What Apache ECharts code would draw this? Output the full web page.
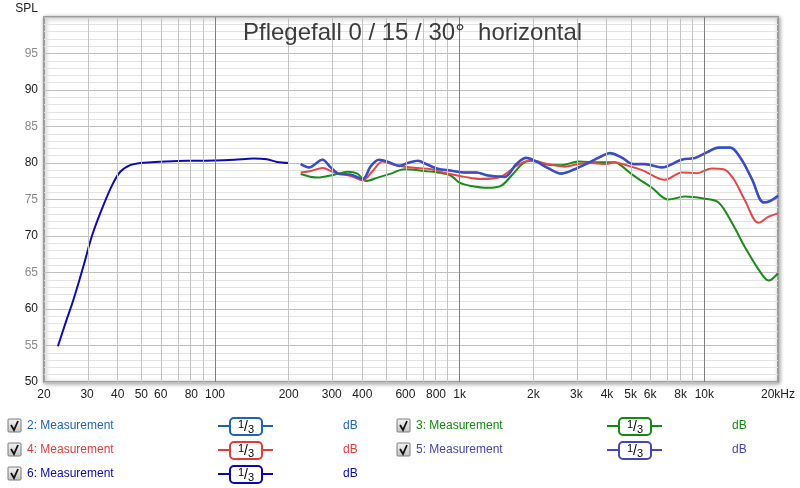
<!DOCTYPE html>
<html>
<head>
<meta charset="utf-8">
<script src="https://cdn.jsdelivr.net/npm/echarts@6.0.0/dist/echarts.min.js"></script>
<style>
html, body { margin: 0; padding: 0; background: #fff; }
#chart { width: 800px; height: 488px; }
</style>
</head>
<body>
<div id="chart"></div>
<script>
// frequency ticks (Hz) and their labels
const xTickFreqs = [20, 30, 40, 50, 60, 80, 100, 200, 300, 400, 600, 800, 1000, 2000, 3000, 4000, 5000, 6000, 8000, 10000, 20000];
const xTickLabels = ['20', '30', '40', '50', '60', '80', '100', '200', '300', '400', '600', '800', '1k', '2k', '3k', '4k', '5k', '6k', '8k', '10k', '20kHz'];
const gridFreqsLight = [30, 40, 50, 60, 70, 80, 90, 200, 300, 400, 500, 600, 700, 800, 900, 2000, 3000, 4000, 5000, 6000, 7000, 8000, 9000];
const gridFreqsDark = [100, 1000, 10000];

// 6: Measurement (bass, 20-200 Hz)
const freq6 = [22.8, 24.5, 26.4, 29, 31.4, 34.5, 37.9, 41, 45, 49.4, 55, 63, 77, 100, 120, 144, 163, 179, 200];
const spl6 = [54.9, 58.1, 61.3, 65.9, 70.0, 73.7, 76.9, 78.8, 79.7, 80.0, 80.1, 80.2, 80.3, 80.35, 80.45, 80.6, 80.5, 80.15, 80.0];

// 5: Measurement
const freq5 = [224, 242, 275, 297, 322, 359, 401, 434, 469, 515, 566, 613, 674, 740, 814, 922, 1046, 1168, 1304, 1526, 1704, 1872, 2057, 2297, 2606, 2954, 3352, 3738, 4110, 4590, 5124, 5716, 6694, 8084, 9166, 10230, 11430, 12750, 14010, 15650, 17470, 18590, 20000];
const spl5 = [79.85, 79.4, 80.45, 79.4, 78.5, 78.4, 77.8, 79.6, 80.45, 80.1, 79.6, 80.0, 80.3, 79.75, 79.2, 78.95, 78.7, 78.7, 78.3, 78.1, 79.85, 80.7, 80.2, 79.3, 78.55, 79.15, 80.0, 80.8, 81.35, 80.75, 79.85, 79.85, 79.4, 80.45, 80.7, 81.45, 82.1, 82.1, 80.75, 77.8, 74.6, 74.8, 75.5];

// 2: Measurement lies right under 5
const freq2 = freq5;
const spl2 = spl5;

// 4: Measurement
const freq4 = [224, 246, 275, 307, 353, 401, 441, 484, 540, 594, 674, 764, 894, 1046, 1224, 1479, 1704, 1931, 2122, 2370, 2688, 3050, 3458, 3920, 4308, 4734, 5542, 6906, 8084, 9312, 10730, 11980, 13170, 14690, 16670, 18320, 20000];
const spl4 = [78.7, 78.9, 79.3, 78.7, 78.3, 77.65, 78.9, 80.2, 79.75, 79.5, 79.3, 79.15, 78.55, 78.1, 77.8, 78.15, 79.6, 80.3, 80.1, 79.75, 79.5, 79.85, 80.0, 79.85, 80.1, 79.75, 79.05, 77.7, 78.7, 78.6, 79.25, 79.15, 77.8, 74.8, 71.8, 72.65, 73.1];

// 3: Measurement
const freq3 = [224, 262, 307, 348, 382, 414, 462, 524, 594, 717, 814, 922, 998, 1114, 1304, 1479, 1651, 1842, 2024, 2297, 2606, 3050, 3684, 4308, 4590, 5124, 6090, 7130, 8340, 10070, 11430, 12960, 14690, 16670, 18320, 20000];
const spl3 = [78.5, 78.0, 78.4, 78.8, 78.55, 77.55, 78.0, 78.55, 79.15, 78.9, 78.7, 78.25, 77.3, 76.85, 76.6, 76.9, 78.5, 80.1, 80.3, 79.75, 79.7, 80.2, 80.1, 80.1, 79.6, 78.3, 76.65, 75.0, 75.4, 75.1, 74.6, 71.8, 68.4, 65.4, 63.9, 64.9];

const legendNames = ['2: Measurement', '3: Measurement', '4: Measurement', '5: Measurement', '6: Measurement'];
const legendColors = ['#1e64b4', '#128a12', '#e03c3c', '#4646b4', '#0808b0'];

const chart = echarts.init(document.getElementById('chart'), null, { renderer: 'canvas' });

function pts(freqs, spl) {
	return freqs.map((f, i) => [Math.log10(f), spl[i]]);
}

function curve(name, freqs, spl, color, width) {
	return {
		name: name,
		type: 'line',
		data: pts(freqs, spl),
		smooth: 0.35,
		symbol: 'none',
		z: 3,
		lineStyle: { color: color, width: width },
		silent: true
	};
}

const tickLabelMap = {};
xTickFreqs.forEach((f, i) => { tickLabelMap[f] = xTickLabels[i]; });

// legend, two columns, drawn as graphics
const legendGraphics = [];
legendNames.forEach((name, i) => {
	const x0 = 8 + (i % 2) * 389;
	const cy = 426 + Math.floor(i / 2) * 24;
	const color = legendColors[i];
	legendGraphics.push(
		{
			type: 'rect',
			shape: { x: x0, y: cy - 7, width: 13, height: 13, r: 1 },
			style: {
				fill: new echarts.graphic.LinearGradient(0, 0, 0, 1, [
					{ offset: 0, color: '#f4f4f4' },
					{ offset: 1, color: '#c4c4c4' }
				]),
				stroke: '#7c7c7c', lineWidth: 1
			}
		},
		{
			type: 'polyline',
			shape: { points: [[x0 + 3, cy - 1], [x0 + 6, cy + 4], [x0 + 10, cy - 5]] },
			style: { stroke: '#111', lineWidth: 1.8, fill: null }
		},
		{
			type: 'text',
			x: x0 + 19, y: cy,
			style: { text: name, fill: color, fontSize: 12, fontFamily: 'Liberation Sans, Arial, sans-serif', verticalAlign: 'middle' }
		},
		{
			type: 'line',
			shape: { x1: x0 + 210, y1: cy, x2: x0 + 265, y2: cy },
			style: { stroke: color, lineWidth: 2 }
		},
		{
			type: 'rect',
			shape: { x: x0 + 222, y: cy - 8, width: 32, height: 17, r: 4 },
			style: { fill: '#fff', stroke: color, lineWidth: 2 }
		},
		{
			type: 'text',
			x: x0 + 238, y: cy + 1,
			style: {
				text: '{a|1}{b|/}{c|3}',
				align: 'center', verticalAlign: 'middle',
				rich: {
					a: { fontSize: 11, color: '#111', padding: [0, 0, 5, 0], fontFamily: 'Liberation Sans, Arial, sans-serif' },
					b: { fontSize: 14, color: '#111', fontFamily: 'Liberation Sans, Arial, sans-serif' },
					c: { fontSize: 11, color: '#111', padding: [5, 0, 0, 0], fontFamily: 'Liberation Sans, Arial, sans-serif' }
				}
			}
		},
		{
			type: 'text',
			x: x0 + 335, y: cy,
			style: { text: 'dB', fill: color, fontSize: 12, fontFamily: 'Liberation Sans, Arial, sans-serif', verticalAlign: 'middle' }
		}
	);
});

const vGrid = gridFreqsLight.map(f => ({ xAxis: Math.log10(f), lineStyle: { color: '#c4c4c4', width: 1, type: 'solid' } }))
	.concat(gridFreqsDark.map(f => ({ xAxis: Math.log10(f), lineStyle: { color: '#7e7e7e', width: 1, type: 'solid' } })));

const option = {
	animation: false,
	backgroundColor: '#fff',
	textStyle: { fontFamily: 'Liberation Sans, Arial, sans-serif' },
	title: {
		text: 'Pflegefall 0 / 15 / 30°  horizontal',
		left: 243, top: 21, padding: 0,
		textStyle: { fontSize: 24, fontWeight: 'normal', color: '#3c3c3c', fontFamily: 'Liberation Sans, Arial, sans-serif' }
	},
	grid: {
		left: 44, right: 22, top: 17, bottom: 106,
		show: true, backgroundColor: '#fff',
		borderColor: '#9c9c9c', borderWidth: 2,
		shadowColor: 'rgba(0,0,0,0.35)', shadowBlur: 4, shadowOffsetX: 1, shadowOffsetY: 1,
		outerBoundsMode: 'none'
	},
	xAxis: {
		type: 'value',
		min: Math.log10(20), max: Math.log10(20000),
		axisLine: { show: false },
		axisTick: { show: false },
		splitLine: { show: false },
		axisLabel: {
			customValues: xTickFreqs.map(f => Math.log10(f)),
			formatter: v => tickLabelMap[Math.round(Math.pow(10, v))] || '',
			color: '#222', fontSize: 12, margin: 7,
			showMinLabel: true, showMaxLabel: true
		}
	},
	yAxis: {
		type: 'value',
		min: 50, max: 100, interval: 5,
		name: 'SPL',
		nameLocation: 'end',
		nameGap: 2,
		nameTextStyle: { color: '#222', fontSize: 12, align: 'right', padding: [0, 6, 0, 0] },
		axisLine: { show: false },
		axisTick: { show: false },
		minorTick: { show: false, splitNumber: 5 },
		splitLine: { lineStyle: { color: '#c0c0c0', width: 1 } },
		minorSplitLine: { show: true, lineStyle: { color: '#e3e3e3', width: 1 } },
		axisLabel: {
			margin: 6,
			showMaxLabel: false,
			formatter: v => (v % 10 === 0 ? '{k|' + v + '}' : '{g|' + v + '}'),
			rich: {
				k: { color: '#1a1a1a', fontSize: 12 },
				g: { color: '#8a8a8a', fontSize: 12 }
			}
		}
	},
	graphic: legendGraphics,
	series: [
		{
			name: 'grid',
			type: 'line',
			data: [],
			z: 1,
			silent: true,
			markLine: {
				silent: true,
				symbol: ['none', 'none'],
				label: { show: false },
				animation: false,
				data: vGrid
			}
		},
		curve('3: Measurement', freq3, spl3, '#1a8c1a', 2),
		curve('4: Measurement', freq4, spl4, '#e84646', 2),
		curve('2: Measurement', freq2, spl2, '#2f6ad0', 2.6),
		curve('5: Measurement', freq5, spl5, '#4646c0', 1.8),
		curve('6: Measurement', freq6, spl6, '#0c0cb4', 2)
	]
};

chart.setOption(option);
</script>
</body>
</html>
